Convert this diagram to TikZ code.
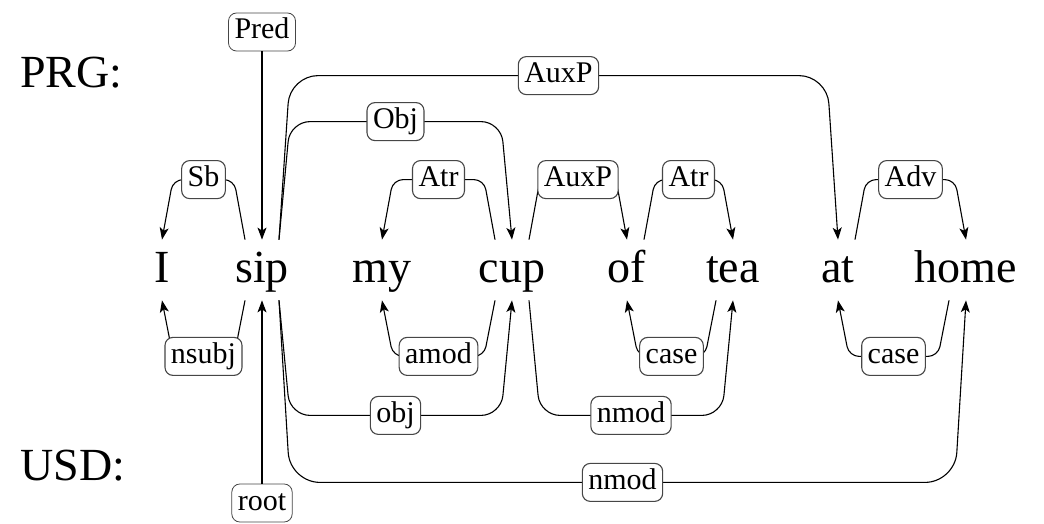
\documentclass[tikz,border=0pt]{standalone}
\usepackage{fontspec}
\setmainfont{Liberation Serif}
\usetikzlibrary{arrows.meta}
\definecolor{box gray}{RGB}{70, 70, 70}

\begin{document}
\begin{tikzpicture}[
        x=0.5pt, y=-0.5pt,
        >={Stealth[length=6pt,width=4.5pt,inset=1.5pt]},
        scheme/.style={
            anchor=base west,
            inner sep=0pt,
            font=\fontsize{23}{27}\selectfont
        },
        word/.style={
            anchor=base,
            inner sep=0pt,
            text height=21pt,
            text depth=9pt,
            font=\fontsize{23}{27}\selectfont
        },
        deplabel/.style={
            draw=box gray,
            fill=white,
            rounded corners=4pt,
            inner xsep=3pt,
            inner ysep=2.5pt,
            text height=10.5pt,
            text depth=3.5pt,
            font=\fontsize{15}{18}\selectfont
        },
        arc/.style={->, line width=0.55pt}
    ]
    \useasboundingbox (0,0) rectangle (1044,524);

    \node[scheme] (prg) at (20,88) {PRG:};
    \node[scheme] (usd) at (20,480) {USD:};

    % sentence
    \foreach \w/\x in {I/162, sip/262, my/382, cup/512, of/627, tea/733, at/838, home/966}
        \node[word] (\w) at (\x,282) {\w};

    % PRG arcs above the words
    \foreach \from/\dx/\to/\h/\r/\name/\lab in {
            sip/-17/I/-60/5/prg-sb/Sb,
            sip/17/cup/-118/10/prg-obj/Obj,
            sip/17/at/-164/14/prg-auxp-at/AuxP,
            cup/-17/my/-60/5/prg-atr-my/Atr,
            cup/17/of/-60/5/prg-auxp-of/AuxP,
            of/17/tea/-60/5/prg-atr-tea/Atr,
            at/17/home/-60/5/prg-adv/Adv}
    {
        \pgfmathsetmacro\s{sign(\dx)*11}
        \pgfmathsetmacro\t{-\s}
        \draw[arc, rounded corners=\r pt] ([shift={(\dx,0)}]\from.north) -- ++(\s,\h)
            -- node[deplabel] (\name) {\lab} ([shift={(\t,\h)}]\to.north) -- (\to.north);
    }

    % USD arcs below the words
    \foreach \from/\dx/\to/\h/\r/\name/\lab in {
            sip/-17/I/56/5/usd-nsubj/nsubj,
            cup/-17/my/56/5/usd-amod/amod,
            sip/17/cup/115/10/usd-obj/obj,
            cup/17/tea/115/10/usd-nmod-tea/nmod,
            tea/-17/of/56/5/usd-case-of/case,
            home/-17/at/56/5/usd-case-at/case,
            sip/17/home/182/15/usd-nmod-home/nmod}
    {
        \pgfmathsetmacro\s{sign(\dx)*11}
        \pgfmathsetmacro\t{-\s}
        \draw[arc, rounded corners=\r pt] ([shift={(\dx,0)}]\from.south) -- ++(\s,\h)
            -- node[deplabel] (\name) {\lab} ([shift={(\t,\h)}]\to.south) -- (\to.south);
    }

    % roots
    \node[deplabel] (pred) at (262,32) {Pred};
    \node[deplabel] (root) at (262,503) {root};
    \draw[arc] (pred) -- (sip.north);
    \draw[arc] (root) -- (sip.south);
\end{tikzpicture}
\end{document}
